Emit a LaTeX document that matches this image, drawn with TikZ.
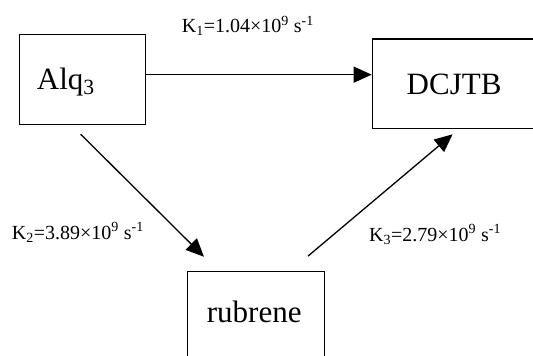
\documentclass[tikz,border=0pt]{standalone}
\usepackage{fontspec}
\setmainfont{Liberation Serif}
\usetikzlibrary{arrows.meta}
\tikzset{
  box/.style={draw=black, line width=1.3pt, rectangle, inner sep=0pt, anchor=north west},
  boxtext/.style={font=\fontsize{31}{36}\selectfont, inner sep=0pt, anchor=base west},
  rate/.style={font=\fontsize{20}{24}\selectfont, inner sep=0pt, anchor=base west},
  flow/.style={line width=1.3pt, -{Triangle[length=18pt, width=16pt]}},
}
\begin{document}
\begin{tikzpicture}[x=1pt, y=-1pt]
\useasboundingbox (0,0) rectangle (533,356);
\clip (0,0) rectangle (533,356);

% species boxes
\node[box, minimum width=126.5pt, minimum height=90pt] (alq) at (18.5,34) {};
\node[box, minimum width=164.3pt, minimum height=89.4pt] (dcj) at (371.7,38.3) {};
\node[box, minimum width=137.3pt, minimum height=110pt] (rub) at (186.7,270.7) {};

% species names
\node[boxtext] (alqname) at (36.7,89) {Alq\textsubscript{3}};
\node[boxtext] (dcjname) at (406.5,94) {DCJTB};
\node[boxtext] (rubname) at (206.7,322) {rubrene};

% transfer paths
\draw[flow] ([yshift=5pt]alq.east) -- ([yshift=9pt]dcj.west);
\draw[flow, shorten <=12.7pt, shorten >=19.8pt]
  ([xshift=-10.75pt]alq.south) -- ([xshift=-38pt]rub.north);
\draw[flow, shorten <=22.7pt, shorten >=8.2pt]
  ([xshift=34.7pt]rub.north) -- ([xshift=4.35pt]dcj.south);

% rate constants
\node[rate] (k1) at (181.7,32.7) {K\textsubscript{1}=1.04×10\textsuperscript{9} s\textsuperscript{-1}};
\node[rate] (k2) at (11.7,239) {K\textsubscript{2}=3.89×10\textsuperscript{9} s\textsuperscript{-1}};
\node[rate] (k3) at (369,241) {K\textsubscript{3}=2.79×10\textsuperscript{9} s\textsuperscript{-1}};
\end{tikzpicture}
\end{document}
